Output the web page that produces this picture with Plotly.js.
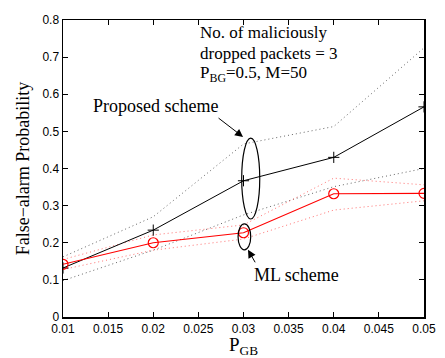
<!DOCTYPE html>
<html><head><meta charset="utf-8">
<script src="https://cdn.plot.ly/plotly-3.0.1.min.js"></script>
<style>html,body{margin:0;padding:0;background:#fff}</style>
</head><body>
<div id="plot" style="width:445px;height:358px"></div>
<script>
const pGB = [0.01, 0.02, 0.03, 0.04, 0.05];
const proposed = [0.132, 0.234, 0.367, 0.430, 0.566];
const proposedUpper = [0.162, 0.270, 0.466, 0.513, 0.725];
const proposedLower = [0.098, 0.180, 0.275, 0.351, 0.400];
const ml = [0.142, 0.200, 0.227, 0.332, 0.333];
const mlUpper = [0.155, 0.221, 0.248, 0.374, 0.356];
const mlLower = [0.128, 0.180, 0.210, 0.288, 0.313];
const xTicks = [0.01, 0.015, 0.02, 0.025, 0.03, 0.035, 0.04, 0.045, 0.05];
const xTickText = ["0.01", "0.015", "0.02", "0.025", "0.03", "0.035", "0.04", "0.045", "0.05"];
const yTicks = [0, 0.1, 0.2, 0.3, 0.4, 0.5, 0.6, 0.7, 0.8];
const yTickText = ["0", "0.1", "0.2", "0.3", "0.4", "0.5", "0.6", "0.7", "0.8"];

const serif = "Liberation Serif, Times New Roman, serif";
const sans = "Liberation Sans, Arial, Helvetica, sans-serif";

const traces = [
  {x: pGB, y: proposedUpper, mode: 'lines', line: {color: '#666', width: 1, dash: '1px,3px'}},
  {x: pGB, y: proposedLower, mode: 'lines', line: {color: '#666', width: 1, dash: '1px,3px'}},
  {x: pGB, y: mlUpper, mode: 'lines', line: {color: '#ff7070', width: 1, dash: '1px,3px'}},
  {x: pGB, y: mlLower, mode: 'lines', line: {color: '#ff7070', width: 1, dash: '1px,3px'}},
  {x: pGB, y: proposed, mode: 'lines+markers', line: {color: '#000', width: 1},
   marker: {symbol: 'cross-thin-open', size: 8, color: '#000', line: {color: '#000', width: 1}}},
  {x: pGB, y: ml, mode: 'lines+markers', line: {color: '#ff0000', width: 1.2},
   marker: {symbol: 'circle-open', size: 10, color: '#ff0000', line: {color: '#ff0000', width: 1.2}}}
];

const axisCommon = {
  showgrid: false, zeroline: false, showline: true, mirror: 'ticks',
  linecolor: '#000', linewidth: 1.5, ticks: 'inside', ticklen: 5, tickcolor: '#000', tickwidth: 1,
  tickfont: {family: sans, size: 12, color: '#000'}
};

const layout = {
  width: 445, height: 358,
  margin: {l: 63, r: 21, t: 20, b: 41},
  paper_bgcolor: '#fff', plot_bgcolor: '#fff',
  showlegend: false,
  xaxis: Object.assign({}, axisCommon, {
    range: [0.01, 0.05], tickvals: xTicks, ticktext: xTickText,
    title: {text: 'P<sub>GB</sub>', font: {family: serif, size: 19, color: '#000'}, standoff: 4}
  }),
  yaxis: Object.assign({}, axisCommon, {
    range: [0, 0.8], tickvals: yTicks, ticktext: yTickText,
    title: {text: 'False\u2212alarm Probability', font: {family: serif, size: 18, color: '#000'}, standoff: 8}
  }),
  shapes: [
    {type: 'circle', xref: 'x', yref: 'y', x0: 0.0298, x1: 0.0318, y0: 0.264, y1: 0.482,
     line: {color: '#000', width: 1.2}},
    {type: 'circle', xref: 'x', yref: 'y', x0: 0.0294, x1: 0.0308, y0: 0.181, y1: 0.251,
     line: {color: '#000', width: 1.2}}
  ],
  annotations: [
    {x: 0.02496, y: 0.765, xref: 'x', yref: 'y', xanchor: 'left', yanchor: 'middle', showarrow: false,
     text: 'No. of maliciously', font: {family: serif, size: 17, color: '#000'}},
    {x: 0.02496, y: 0.71, xref: 'x', yref: 'y', xanchor: 'left', yanchor: 'middle', showarrow: false,
     text: 'dropped packets = 3', font: {family: serif, size: 17, color: '#000'}},
    {x: 0.02496, y: 0.655, xref: 'x', yref: 'y', xanchor: 'left', yanchor: 'middle', showarrow: false,
     text: 'P<sub>BG</sub>=0.5, M=50', font: {family: serif, size: 17, color: '#000'}},
    {x: 0.0202, y: 0.569, xref: 'x', yref: 'y', xanchor: 'center', yanchor: 'middle', showarrow: false,
     text: 'Proposed scheme', font: {family: serif, size: 18, color: '#000'}},
    {x: 0.03587, y: 0.113, xref: 'x', yref: 'y', xanchor: 'center', yanchor: 'middle', showarrow: false,
     text: 'ML scheme', font: {family: serif, size: 18, color: '#000'}},
    {x: 0.02995, y: 0.485, xref: 'x', yref: 'y', showarrow: true, text: '', ax: -26, ay: -20,
     arrowhead: 2, arrowsize: 1.6, arrowwidth: 1, arrowcolor: '#000'},
    {x: 0.0305, y: 0.181, xref: 'x', yref: 'y', showarrow: true, text: '', ax: 8, ay: 14,
     arrowhead: 2, arrowsize: 1.6, arrowwidth: 1, arrowcolor: '#000'}
  ]
};

Plotly.newPlot('plot', traces, layout, {staticPlot: true, displayModeBar: false});
</script>
</body></html>
